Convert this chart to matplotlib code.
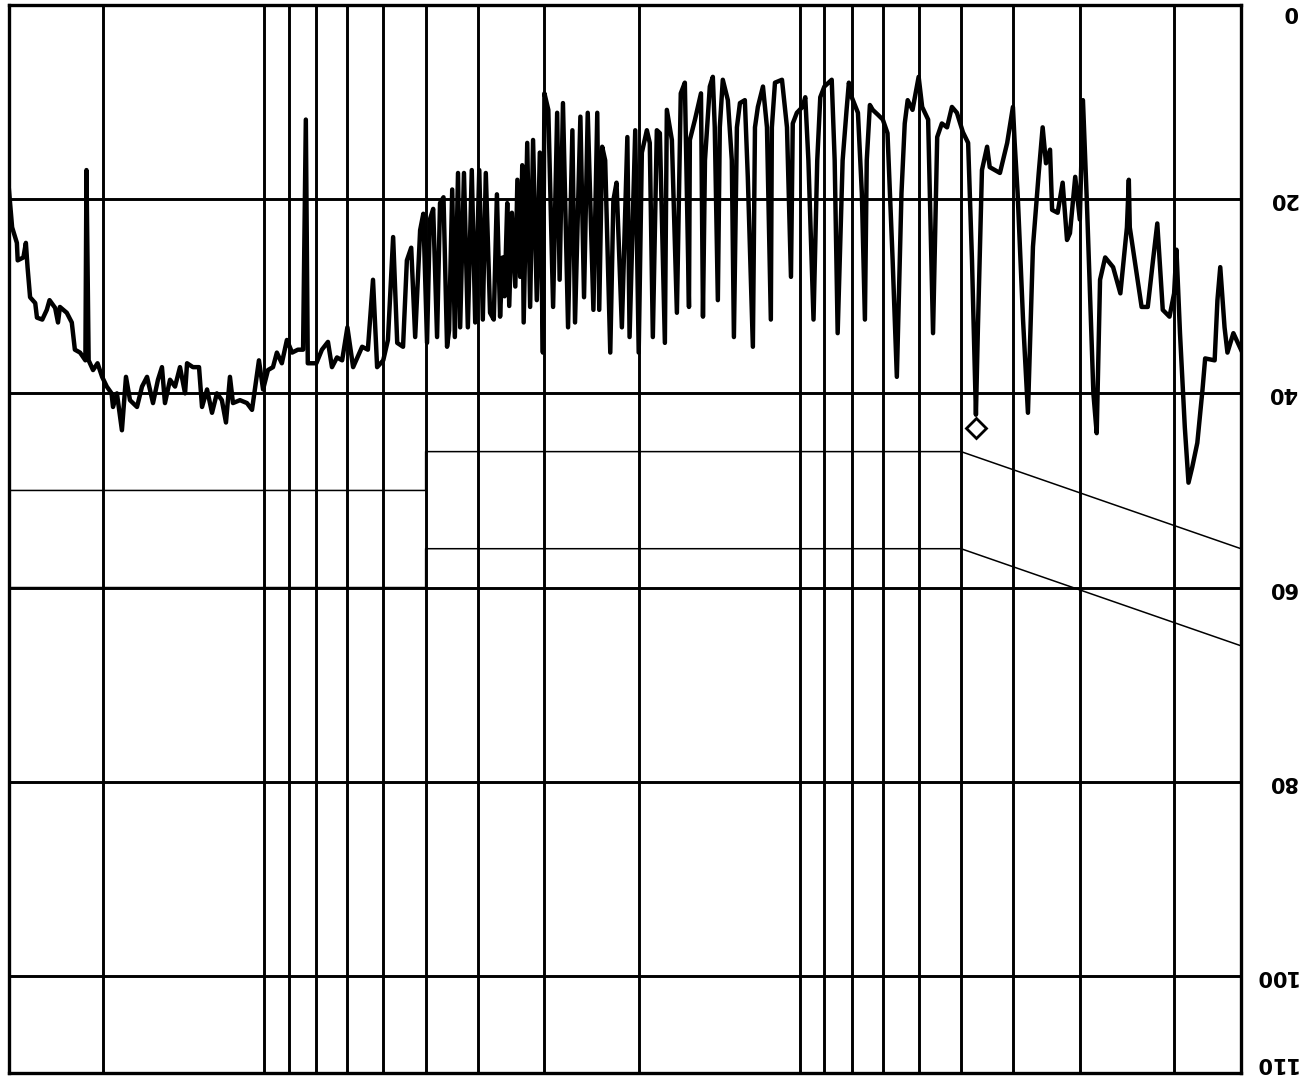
import matplotlib
matplotlib.use("Agg")
import matplotlib.pyplot as plt
import matplotlib.transforms as mtransforms

# conducted emission scan, frequency in MHz, level in dBuV (picture is turned upside down)
freq_mhz = [
    0.150, 0.155, 0.159, 0.161, 0.164, 0.166, 0.168, 0.175, 0.177, 0.181, 0.185, 0.188, 0.191,
    0.195, 0.198, 0.200, 0.204, 0.210, 0.215, 0.219, 0.224, 0.230, 0.234, 0.242, 0.243, 0.245,
    0.252, 0.260, 0.269, 0.275, 0.279, 0.283, 0.291, 0.296, 0.300, 0.306, 0.313, 0.317, 0.323,
    0.330, 0.338, 0.341, 0.347, 0.352, 0.358, 0.367, 0.375, 0.383, 0.392, 0.397, 0.400, 0.410,
    0.423, 0.442, 0.447, 0.457, 0.465, 0.469, 0.477, 0.485, 0.496, 0.509, 0.520, 0.531, 0.543,
    0.554, 0.564, 0.576, 0.591, 0.600, 0.616, 0.629, 0.637, 0.646, 0.659, 0.671, 0.686, 0.700,
    0.715, 0.731, 0.740, 0.750, 0.756, 0.766, 0.779, 0.800, 0.810, 0.818, 0.832, 0.850, 0.861,
    0.872, 0.900, 0.916, 0.928, 0.943, 0.964, 0.977, 0.989, 1.013, 1.031, 1.039, 1.057, 1.080,
    1.113, 1.128, 1.133, 1.152, 1.172, 1.198, 1.213, 1.224, 1.251, 1.267, 1.294, 1.311, 1.328,
    1.340, 1.363, 1.393, 1.411, 1.423, 1.442, 1.454, 1.473, 1.504, 1.517, 1.530, 1.570, 1.605,
    1.611, 1.640, 1.669, 1.697, 1.734, 1.772, 1.787, 1.826, 1.850, 1.882, 1.907, 1.931, 1.973,
    2.00, 2.03, 2.08, 2.10, 2.15, 2.20, 2.23, 2.26, 2.31, 2.34, 2.37, 2.39, 2.43, 2.49, 2.53,
    2.57, 2.63, 2.66, 2.71, 2.77, 2.81, 2.84, 2.89, 2.95, 3.00, 3.02, 3.06, 3.10, 3.15, 3.19,
    3.23, 3.28, 3.30, 3.33, 3.37, 3.40, 3.45, 3.49, 3.52, 3.56, 3.59, 3.63, 3.68, 3.73, 3.79,
    3.86, 3.91, 3.97, 4.04, 4.10, 4.17, 4.24, 4.31, 4.35, 4.41, 4.46, 4.52, 4.56, 4.63, 4.70,
    4.76, 4.84, 4.91, 4.97, 5.05, 5.12, 5.23, 5.32, 5.42, 5.51,
    5.65, 5.75, 5.88, 6.00, 6.16, 6.27, 6.41, 6.57, 6.83, 7.00, 7.16, 7.32, 7.48, 7.61, 7.81,
    8.00, 8.30, 8.37, 8.47, 8.66, 8.88, 9.08, 9.28, 9.48, 9.64, 9.85, 10.06, 10.24, 10.42, 10.55,
    10.78, 11.11, 11.45, 11.60, 11.80, 12.01, 12.27, 12.53, 12.80, 13.08, 13.25, 13.60, 13.95,
    14.07, 14.38, 14.69, 15.01, 15.34, 15.54, 15.81, 16.15, 16.57, 16.93, 17.30, 17.83, 18.14,
    18.46, 18.86, 19.18, 19.3, 19.7, 20.1, 20.5, 20.9, 21.3, 21.5, 21.6, 22.1, 22.6, 22.9, 23.4,
    24.1, 24.3, 24.6, 25.2, 25.5, 26.0, 26.6, 26.8, 27.4, 27.7, 27.9, 28.2, 28.9, 29.0, 29.6, 30.0,
]
level_dbuv = [
    35.5, 33.8, 35.8, 33.2, 27.0, 30.4, 36.6, 36.4, 39.6, 45.1, 47.6, 49.2, 43.5,
    33.8, 25.2, 29.7, 32.1, 31.4, 22.5, 26.3, 31.1, 31.1, 28.3, 22.9, 18.0, 22.9,
    29.7, 27.0, 26.0, 28.3, 44.1, 40.0, 20.4, 9.8, 22.1, 17.7, 23.5, 24.2, 18.3,
    21.4, 21.1, 14.9, 16.3, 12.6, 17.3, 24.9, 42.0, 32.4, 19.4, 14.2, 10.5, 14.2,
    17.3, 16.7, 14.6, 17.0, 33.2, 42.2, 26.3, 14.2, 13.1, 11.1, 10.5, 12.6, 12.2,
    13.6, 33.8, 11.8, 10.5, 7.4, 10.8, 9.8, 12.2, 19.4, 38.3, 26.3, 13.2, 11.8,
    11.3, 10.8, 10.3, 16.0, 32.4, 19.4, 11.1, 9.5, 8.0, 10.8, 16.0, 33.8, 16.0,
    7.7, 8.4, 9.5, 16.0, 32.4, 16.0, 9.5, 10.5, 11.1, 12.2, 28.0, 12.6, 7.7,
    8.0, 12.6, 32.4, 12.6, 8.4, 10.5, 12.6, 35.2, 17.7, 9.8, 10.1, 12.6, 34.2,
    16.0, 9.8, 7.7, 12.6, 30.4, 12.6, 7.4, 8.4, 16.0, 32.1, 9.1, 11.8, 13.9,
    31.1, 8.0, 9.1, 31.7, 13.9, 10.8, 34.8, 13.2, 12.9, 34.2, 14.2, 12.9, 15.2,
    35.8, 12.9, 34.2, 13.6, 33.2, 18.3, 20.1, 35.8, 16.0, 14.6, 31.4, 11.1, 31.4, 11.1, 30.1,
    11.5, 32.7, 12.9, 33.2, 10.1, 28.3, 11.1, 31.1, 10.8, 9.1, 35.8, 15.2, 30.4, 13.9, 31.1,
    14.2, 32.7, 16.5, 28.0, 18.0, 29.0, 21.4, 31.0, 20.4, 30.0, 26.0, 32.1, 19.5, 32.4, 31.7,
    17.3, 32.4, 17.0, 32.7, 17.0, 33.2, 17.3, 33.2, 17.3, 34.2, 19.0, 33.5, 35.2, 19.8, 20.4,
    34.2, 21.0, 22.1, 34.8, 21.5, 23.2, 34.2, 25.0, 26.3, 35.2,
    34.8, 23.9, 34.5, 36.6, 37.3, 28.3, 35.5, 35.2, 37.3, 33.2, 36.6, 36.3, 37.3, 34.7, 35.5,
    36.9, 36.9, 11.8, 35.5, 35.5, 35.8, 34.5, 36.9, 35.8, 37.3, 37.6, 39.6, 36.6, 39.6, 41.7,
    41.0, 40.7, 41.0, 38.3, 43.0, 40.7, 40.0, 42.0, 39.6, 41.4, 37.3, 37.3, 36.9,
    40.0, 37.3, 39.3, 38.6, 41.0, 37.3, 38.6, 41.0, 38.3, 39.3, 41.4, 40.7, 38.3,
    43.8, 40.0, 41.4, 40.0, 39.3, 38.3, 36.9, 37.6, 36.6, 17.0, 36.6, 35.8, 35.5, 32.7, 31.7,
    31.1, 32.7, 31.2, 30.4, 31.4, 32.4, 32.2, 30.7, 30.1, 27.0, 24.5, 26.0, 26.3, 24.5, 22.9, 19.1,
]

# limit lines
qp_freq = [0.15, 0.5, 5.0, 5.0, 30.0]
qp_limit = [66, 56, 56, 60, 60]
av_freq = [0.15, 0.5, 5.0, 5.0, 30.0]
av_limit = [56, 46, 46, 50, 50]

# marked peak
peak_freq = [0.469]
peak_level = [43.6]

grid_freqs = [0.2, 0.3, 0.4, 0.5, 0.6, 0.7, 0.8, 0.9, 1, 2, 3, 4, 5, 6, 7, 8, 9, 10, 20]
grid_levels = [20, 40, 60, 80, 100]
tick_levels = [0, 20, 40, 60, 80, 100, 110]
tick_pos = [0.7, 20, 40, 60, 80, 100, 109.0]

W, H = 1309, 1076
fig = plt.figure(figsize=(W / 100, H / 100), dpi=100)
ax = fig.add_axes([9 / W, 1 - 1073 / H, (1241 - 9) / W, (1073 - 5) / H])

ax.set_xscale("log")
ax.set_xlim(30, 0.15)
ax.set_ylim(110, 0)

for f in grid_freqs:
    ax.axvline(f, color="black", lw=2.1, zorder=1)
for lv in grid_levels:
    ax.axhline(lv, color="black", lw=2.1, zorder=1)

ax.plot(qp_freq, qp_limit, color="black", lw=1.1, zorder=2)
ax.plot(av_freq, av_limit, color="black", lw=1.1, zorder=2)

ax.plot(freq_mhz, level_dbuv, color="black", lw=3.2, solid_joinstyle="round", zorder=3)
ax.plot(peak_freq, peak_level, marker="D", ms=10, mfc="white", mec="black", mew=2,
        ls="none", zorder=4)

for s in ax.spines.values():
    s.set_linewidth(2.4)
ax.set_xticks([])
ax.set_yticks([])
ax.minorticks_off()

trans = mtransforms.blended_transform_factory(ax.transAxes, ax.transData)
for lv, pos in zip(tick_levels, tick_pos):
    ax.text(1.0455, pos, str(lv), transform=trans, rotation=180, ha="right", va="center",
            fontsize=15, fontweight="bold", family="DejaVu Sans", clip_on=False)

fig.savefig("out.png", dpi=100)
